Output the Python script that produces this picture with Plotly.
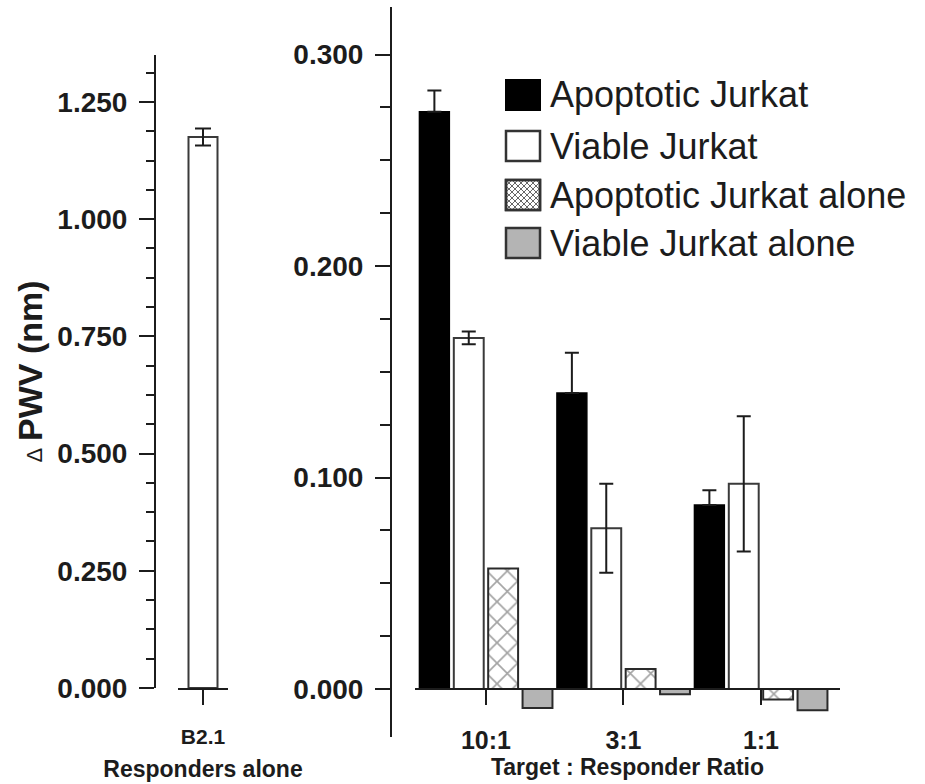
import plotly.graph_objects as go

# ---- data -------------------------------------------------------------
responder_labels = ["B2.1"]
responder_values = [1.175]
responder_errors = [0.018]

ratios = ["10:1", "3:1", "1:1"]
apoptotic = [0.273, 0.140, 0.087]
apoptotic_err = [0.010, 0.019, 0.007]
viable = [0.166, 0.076, 0.097]
viable_err = [0.003, 0.021, 0.032]
apoptotic_alone = [0.057, 0.0095, -0.005]
viable_alone = [-0.009, -0.0025, -0.010]

series_names = ["Apoptotic Jurkat", "Viable Jurkat",
                "Apoptotic Jurkat alone", "Viable Jurkat alone"]

# ---- page geometry (pixels -> paper fractions) -------------------------
W, H = 925, 784
FONT = "Liberation Sans, Arial, Helvetica, sans-serif"
INK = "#1c1c1c"
GRAY = "#b4b4b4"


def fx(px):
    return px / W


def fy(py):
    return 1 - py / H


fig = go.Figure()

# left panel: responders alone
fig.add_trace(go.Bar(
    x=responder_labels, y=responder_values, width=0.58,
    marker=dict(color="white", line=dict(color="#3a3a3a", width=2)),
    error_y=dict(type="data", array=responder_errors, color=INK,
                 thickness=2, width=8),
    xaxis="x", yaxis="y", showlegend=False,
))

# right panel: target : responder ratio
x_idx = list(range(len(ratios)))
fig.add_trace(go.Bar(
    x=x_idx, y=apoptotic, name=series_names[0],
    marker=dict(color="black", line=dict(color="black", width=1.5)),
    error_y=dict(type="data", symmetric=False, array=apoptotic_err,
                 arrayminus=[0] * len(apoptotic_err), color=INK,
                 thickness=2, width=7),
    xaxis="x2", yaxis="y2", showlegend=False,
))
fig.add_trace(go.Bar(
    x=x_idx, y=viable, name=series_names[1],
    marker=dict(color="white", line=dict(color="#3a3a3a", width=2)),
    error_y=dict(type="data", array=viable_err, color=INK,
                 thickness=2, width=7),
    xaxis="x2", yaxis="y2", showlegend=False,
))
fig.add_trace(go.Bar(
    x=x_idx, y=apoptotic_alone, name=series_names[2],
    marker=dict(color="white", line=dict(color="#2a2a2a", width=2),
                pattern=dict(shape="x", size=14.5, solidity=0.22,
                             fgcolor="#4a4a4a", bgcolor="white")),
    xaxis="x2", yaxis="y2", showlegend=False,
))
fig.add_trace(go.Bar(
    x=x_idx, y=viable_alone, name=series_names[3],
    marker=dict(color=GRAY, line=dict(color="#2a2a2a", width=2)),
    xaxis="x2", yaxis="y2", showlegend=False,
))

axis_common = dict(showline=True, linecolor=INK, linewidth=2,
                   ticks="outside", tickcolor=INK, tickwidth=2, ticklen=15,
                   showgrid=False, zeroline=False, automargin=False)

tick_font = dict(family=FONT, size=28, color=INK, weight="bold")

fig.update_layout(
    width=W, height=H,
    margin=dict(l=0, r=0, t=0, b=0),
    paper_bgcolor="white", plot_bgcolor="rgba(0,0,0,0)",
    barmode="group", bargap=0.0, bargroupgap=0.13,
    showlegend=False,
    xaxis=dict(
        **axis_common,
        domain=[fx(178), fx(228)], range=[-0.5, 0.5], anchor="y",
        tickfont=dict(family=FONT, size=21, color=INK, weight="bold"),
        ticklabelstandoff=14,
        title=dict(text="Responders alone", standoff=14,
                   font=dict(family=FONT, size=23, color=INK, weight="bold")),
    ),
    yaxis=dict(
        **axis_common,
        domain=[fy(688), fy(55)], range=[0, 1.35],
        anchor="free", position=fx(155),
        tick0=0, dtick=0.25, tickformat=".3f", tickfont=tick_font,
        ticklabelstandoff=6,
        minor=dict(ticks="outside", dtick=0.0625, ticklen=8,
                   tickwidth=2, tickcolor=INK),
        title=dict(
            text="<span style='font-size:22px;font-weight:normal'>\u0394</span>"
                 "\u2009PWV (nm)",
            standoff=3,
            font=dict(family=FONT, size=34, color=INK, weight="bold")),
    ),
    xaxis2=dict(
        **axis_common,
        domain=[fx(415), fx(840)], range=[-0.516, 2.575],
        anchor="free", position=fy(689),
        tickmode="array", tickvals=x_idx, ticktext=ratios,
        tickfont=dict(family=FONT, size=25, color=INK, weight="bold"),
        ticklabelstandoff=14,
        title=dict(text="Target : Responder Ratio", standoff=4,
                   font=dict(family=FONT, size=23, color=INK, weight="bold")),
    ),
    yaxis2=dict(
        **axis_common,
        domain=[fy(737), fy(7)], range=[-0.0227, 0.3225],
        anchor="free", position=fx(391),
        tick0=0, dtick=0.1, tickformat=".3f", tickfont=tick_font,
        ticklabelstandoff=6,
        minor=dict(ticks="outside", dtick=0.025, ticklen=10,
                   tickwidth=2, tickcolor=INK),
    ),
)

# ---- legend drawn as swatches + labels ------------------------------------
sw_x0, sw_x1 = 506, 540
row_centers = [95, 146, 195, 243]
half_h = 15
swatch_styles = [
    dict(fillcolor="black", line=dict(color="black", width=2)),
    dict(fillcolor="white", line=dict(color="#333", width=2.5)),
    dict(fillcolor="white", line=dict(color="#333", width=2.5)),
    dict(fillcolor=GRAY, line=dict(color="#333", width=2.5)),
]


def hatch_path(x0, y0, x1, y1, step=6):
    """Diagonal cross-hatch lines clipped to a pixel box, as a paper path."""
    segs = []
    w, h = x1 - x0, y1 - y0
    for k in range(-int(h), int(w) + 1, step):
        # lines with slope +1 and -1 in pixel space, clipped to the box
        for sign in (1, -1):
            pts = []
            for t in range(0, int(h) + 1):
                xx = k + t if sign == 1 else k + (h - t)
                if 0 <= xx <= w:
                    pts.append((x0 + xx, y0 + t))
            if len(pts) >= 2:
                (ax, ay), (bx, by) = pts[0], pts[-1]
                segs.append(f"M{fx(ax):.5f},{fy(ay):.5f}L{fx(bx):.5f},{fy(by):.5f}")
    return "".join(segs)


for name, yc, style in zip(series_names, row_centers, swatch_styles):
    y0, y1 = yc - half_h, yc + half_h
    fig.add_shape(type="rect", xref="paper", yref="paper",
                  x0=fx(sw_x0), x1=fx(sw_x1), y0=fy(y1), y1=fy(y0), **style)
    if name == "Apoptotic Jurkat alone":
        fig.add_shape(type="path", xref="paper", yref="paper",
                      path=hatch_path(sw_x0, y0, sw_x1, y1),
                      line=dict(color="#666", width=1))
        fig.add_shape(type="rect", xref="paper", yref="paper",
                      x0=fx(sw_x0), x1=fx(sw_x1), y0=fy(y1), y1=fy(y0),
                      line=dict(color="#333", width=2.5))
    fig.add_annotation(x=fx(548), y=fy(yc), xref="paper", yref="paper",
                       xanchor="left", yanchor="middle", showarrow=False,
                       text=name, font=dict(family=FONT, size=36, color=INK))

fig.write_html("out.html")
